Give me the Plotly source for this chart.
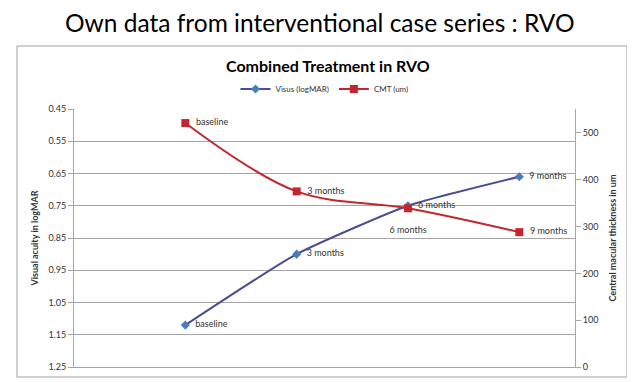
import plotly.graph_objects as go

# Data
months = [0, 3, 6, 9]
labels = ["baseline", "3 months", "6 months", "9 months"]
visus = [1.12, 0.90, 0.75, 0.66]
cmt = [521, 375, 339, 288]
visus_ticks = [0.45, 0.55, 0.65, 0.75, 0.85, 0.95, 1.05, 1.15, 1.25]
cmt_ticks = [0, 100, 200, 300, 400, 500]

FONT = "Lato, Carlito, Calibri, sans-serif"

# The page body has an 8px default margin; work in window pixels and shift.
OFF = 8
W, H = 635 - OFF, 382 - OFF
L, R, T, B = 74 - OFF, 575 - OFF, 109 - OFF, 367 - OFF

def px(x):
    return (x - OFF - L) / (R - L)

def py(y):
    return (B - (y - OFF)) / (B - T)

visus_text = ["  " + t for t in labels]
cmt_text = ["  " + t for t in labels]
cmt_text[2] = "<br>" + labels[2]

fig = go.Figure()

fig.add_trace(go.Scatter(
    x=months, y=visus, name="Visus (logMAR)",
    mode="lines+markers+text", text=visus_text,
    textposition="middle right",
    textfont=dict(size=9, color="#333333", family=FONT),
    line=dict(color="#4b4f8f", width=2, shape="spline", smoothing=0.5),
    marker=dict(symbol="diamond", size=7, color="#4a7ebb"),
    yaxis="y", cliponaxis=False,
))

fig.add_trace(go.Scatter(
    x=months, y=cmt, name="CMT (um)",
    mode="lines+markers+text", text=cmt_text,
    textposition=["middle right", "middle right", "bottom center", "middle right"],
    textfont=dict(size=9, color="#333333", family=FONT),
    line=dict(color="#c4262d", width=2, shape="spline", smoothing=1.0),
    marker=dict(symbol="square", size=8, color="#c4262d"),
    yaxis="y2", cliponaxis=False,
))

fig.update_layout(
    width=W, height=H,
    margin=dict(l=L, r=W - R, t=T, b=H - B, pad=0, autoexpand=False),
    paper_bgcolor="white", plot_bgcolor="white",
    font=dict(family=FONT, color="#333333"),
    showlegend=True,
    legend=dict(orientation="h", x=0.5, xanchor="center", y=py(89), yanchor="middle",
                font=dict(size=8, family=FONT), bgcolor="rgba(0,0,0,0)",
                tracegroupgap=0, itemwidth=30),
    xaxis=dict(range=[-3, 10.5], showticklabels=False, showgrid=False, zeroline=False,
               showline=True, linecolor="#a6a6a6", ticks="", automargin=False),
    yaxis=dict(range=[1.25, 0.45], tickvals=visus_ticks,
               ticktext=[f"{v:.2f}" for v in visus_ticks], automargin=False,
               showgrid=True, gridcolor="#a6a6a6", gridwidth=1, zeroline=False,
               showline=True, linecolor="#a6a6a6", ticks="outside", ticklen=5,
               tickcolor="#a6a6a6", tickfont=dict(size=9, family=FONT, color="#333333"),
               title=dict(text="<b>Visual acuity in logMAR</b>", font=dict(size=9, family=FONT),
                          standoff=8)),
    yaxis2=dict(range=[0, 551], overlaying="y", side="right", tickvals=cmt_ticks,
                showgrid=False, zeroline=False, showline=True, linecolor="#a6a6a6",
                ticks="outside", ticklen=5, tickcolor="#a6a6a6", automargin=False,
                tickfont=dict(size=9, family=FONT, color="#333333"),
                title=dict(text="<b>Central macular thickness in um</b>",
                           font=dict(size=9, family=FONT), standoff=12)),
)

# Chart border box
fig.add_shape(type="rect", xref="paper", yref="paper",
              x0=px(17), x1=px(627), y0=py(377), y1=py(46),
              line=dict(color="#a0a0a0", width=1), layer="below")

# Titles
fig.add_annotation(text="Own data from interventional case series : RVO",
                   xref="paper", yref="paper", x=px(320), y=py(22),
                   xanchor="center", yanchor="middle", showarrow=False,
                   font=dict(size=24.5, family=FONT, color="#000000"))
fig.add_annotation(text="<b>Combined Treatment in RVO</b>",
                   xref="paper", yref="paper", x=px(328), y=py(66),
                   xanchor="center", yanchor="middle", showarrow=False,
                   font=dict(size=16, family=FONT, color="#000000"))

fig.write_html("out.html")
